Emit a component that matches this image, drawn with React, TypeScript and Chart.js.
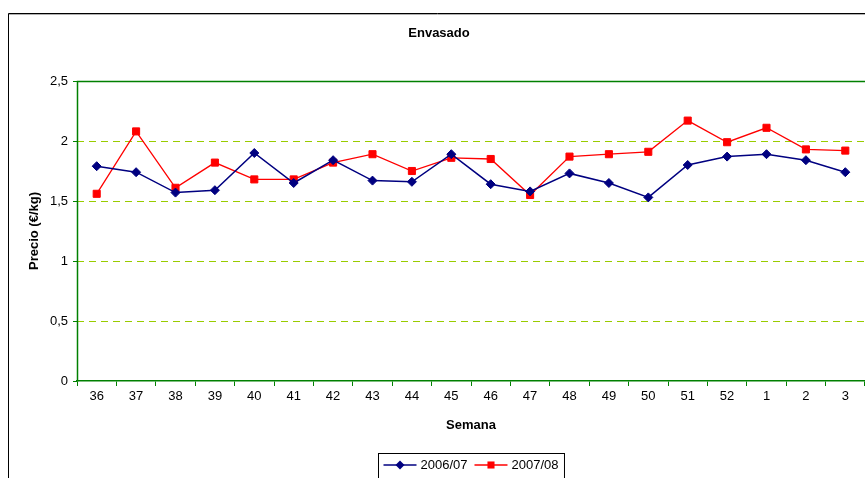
import { useEffect, useRef } from "react";
import { Chart, registerables } from "chart.js";

Chart.register(...registerables);

const weeks = ["36", "37", "38", "39", "40", "41", "42", "43", "44", "45", "46", "47", "48", "49", "50", "51", "52", "1", "2", "3"];
const serie0607 = [1.79, 1.74, 1.57, 1.59, 1.9, 1.65, 1.84, 1.67, 1.66, 1.89, 1.64, 1.58, 1.73, 1.65, 1.53, 1.8, 1.87, 1.89, 1.84, 1.74];
const serie0708 = [1.56, 2.08, 1.61, 1.82, 1.68, 1.68, 1.82, 1.89, 1.75, 1.86, 1.85, 1.55, 1.87, 1.89, 1.91, 2.17, 1.99, 2.11, 1.93, 1.92];
const seriesLabels = ["2006/07", "2007/08"];
const chartTitle = "Envasado";
const xTitle = "Semana";
const yTitle = "Precio (€/kg)";

const FONT = "'Liberation Sans', Arial, sans-serif";

const decorPlugin = {
  id: "decor",
  beforeDraw(chart: any) {
    const { ctx, width, height } = chart;
    ctx.save();
    ctx.fillStyle = "#ffffff";
    ctx.fillRect(0, 0, width, height);
    // outer chart border
    ctx.strokeStyle = "#000000";
    ctx.lineWidth = 1;
    ctx.beginPath();
    ctx.moveTo(8.5, height + 2);
    ctx.lineTo(8.5, 13.5);
    ctx.lineTo(width + 2, 13.5);
    ctx.stroke();
    ctx.strokeStyle = "#b0b0b0";
    ctx.beginPath();
    ctx.moveTo(9, 14.5);
    ctx.lineTo(width + 2, 14.5);
    ctx.stroke();
    ctx.restore();
  },
  afterDraw(chart: any) {
    const { ctx, chartArea } = chart;
    const { left, top, right, bottom } = chartArea;
    ctx.save();
    // plot area border (green)
    ctx.strokeStyle = "#008000";
    ctx.lineWidth = 1.5;
    ctx.beginPath();
    ctx.moveTo(Math.round(left) + 0.5, Math.round(bottom) + 0.5);
    ctx.lineTo(Math.round(left) + 0.5, Math.round(top) + 0.5);
    ctx.lineTo(right + 2, Math.round(top) + 0.5);
    ctx.stroke();

    ctx.fillStyle = "#000000";
    // title
    ctx.font = `bold 13px ${FONT}`;
    ctx.textAlign = "center";
    ctx.textBaseline = "middle";
    ctx.fillText(chartTitle, 439, 33);
    const cx = (left + right) / 2;
    // x title
    ctx.fillText(xTitle, cx, 425);
    // y title
    ctx.save();
    ctx.translate(34, (top + bottom) / 2);
    ctx.rotate(-Math.PI / 2);
    ctx.fillText(yTitle, 0, 0);
    ctx.restore();

    // legend
    ctx.font = `13px ${FONT}`;
    const ds = chart.data.datasets;
    const lineLen = 33;
    const gapText = 4;
    const gapItem = 7;
    const padL = 5;
    const padR = 6;
    const widths = ds.map((d: any) => lineLen + gapText + ctx.measureText(d.label).width);
    const total = padL + padR + widths.reduce((a: number, b: number) => a + b, 0) + gapItem * (ds.length - 1);
    const boxL = Math.round(cx - total / 2) + 0.5;
    const boxT = 453.5;
    ctx.fillStyle = "#ffffff";
    ctx.fillRect(boxL, boxT, total, 40);
    ctx.strokeStyle = "#000000";
    ctx.lineWidth = 1;
    ctx.strokeRect(boxL, boxT, total, 40);
    let x = boxL + padL;
    const ly = 465;
    ds.forEach((d: any, i: number) => {
      ctx.strokeStyle = d.borderColor;
      ctx.lineWidth = d.borderWidth;
      ctx.beginPath();
      ctx.moveTo(x, ly);
      ctx.lineTo(x + lineLen, ly);
      ctx.stroke();
      const mx = x + lineLen / 2;
      ctx.fillStyle = d.pointBackgroundColor;
      ctx.beginPath();
      if (d.pointStyle === "rectRot") {
        const r = d.pointRadius;
        ctx.moveTo(mx - r, ly);
        ctx.lineTo(mx, ly - r);
        ctx.lineTo(mx + r, ly);
        ctx.lineTo(mx, ly + r);
        ctx.closePath();
      } else {
        const s = Math.SQRT1_2 * d.pointRadius;
        ctx.rect(mx - s, ly - s, 2 * s, 2 * s);
      }
      ctx.fill();
      ctx.fillStyle = "#000000";
      ctx.textAlign = "left";
      ctx.fillText(d.label, x + lineLen + gapText, ly);
      x += widths[i] + gapItem;
    });
    ctx.restore();
  },
};

export default function App() {
  const ref = useRef<HTMLCanvasElement | null>(null);

  useEffect(() => {
    document.body.style.margin = "0";
    const canvas = ref.current;
    if (!canvas) return;
    const chart = new Chart(canvas, {
      type: "line",
      data: {
        labels: weeks,
        datasets: [
          {
            label: seriesLabels[0],
            data: serie0607,
            borderColor: "#000080",
            backgroundColor: "#000080",
            pointBackgroundColor: "#000080",
            pointBorderColor: "#000080",
            pointStyle: "rectRot",
            pointRadius: 4.5,
            pointBorderWidth: 1,
            borderWidth: 1.5,
            tension: 0,
            fill: false,
          },
          {
            label: seriesLabels[1],
            data: serie0708,
            borderColor: "#FF0000",
            backgroundColor: "#FF0000",
            pointBackgroundColor: "#FF0000",
            pointBorderColor: "#FF0000",
            pointStyle: "rect",
            pointRadius: 5,
            pointBorderWidth: 1,
            borderWidth: 1.3,
            tension: 0,
            fill: false,
          },
        ],
      } as any,
      options: {
        animation: false,
        responsive: false,
        devicePixelRatio: 1,
        layout: { autoPadding: false, padding: { top: 81, left: 0, right: 0, bottom: 0 } },
        plugins: {
          legend: { display: false },
          title: { display: false },
          tooltip: { enabled: false },
        },
        scales: {
          x: {
            type: "category",
            offset: true,
            grid: {
              display: true,
              offset: true,
              drawOnChartArea: false,
              drawTicks: true,
              tickLength: 5,
              tickColor: "#008000",
              color: "#008000",
            },
            border: { display: true, color: "#008000", width: 1.5 },
            ticks: {
              color: "#000000",
              font: { family: FONT, size: 13 },
              padding: 3,
              maxRotation: 0,
              autoSkip: false,
            },
            afterFit: (s: any) => {
              s.height = 97;
              s.paddingLeft = 0;
              s.paddingRight = 0;
            },
          },
          y: {
            min: 0,
            max: 2.5,
            grid: {
              display: true,
              drawTicks: true,
              tickLength: 4,
              tickColor: "#008000",
              color: (c: any) =>
                c.tick && (c.tick.value === 0 || c.tick.value === 2.5) ? "rgba(0,0,0,0)" : "#99CC00",
              lineWidth: 1,
            },
            border: { display: false, dash: [7, 5] },
            ticks: {
              stepSize: 0.5,
              color: "#000000",
              font: { family: FONT, size: 13 },
              padding: 5,
              callback: (v: any) => String(v).replace(".", ","),
            },
            afterFit: (s: any) => {
              s.width = 77;
            },
          },
        },
      } as any,
      plugins: [decorPlugin],
    });
    return () => chart.destroy();
  }, []);

  return (
    <div style={{ width: 865, height: 478, position: "relative" }}>
      <canvas ref={ref} width={865} height={478} style={{ display: "block", width: 865, height: 478 }} />
    </div>
  );
}
